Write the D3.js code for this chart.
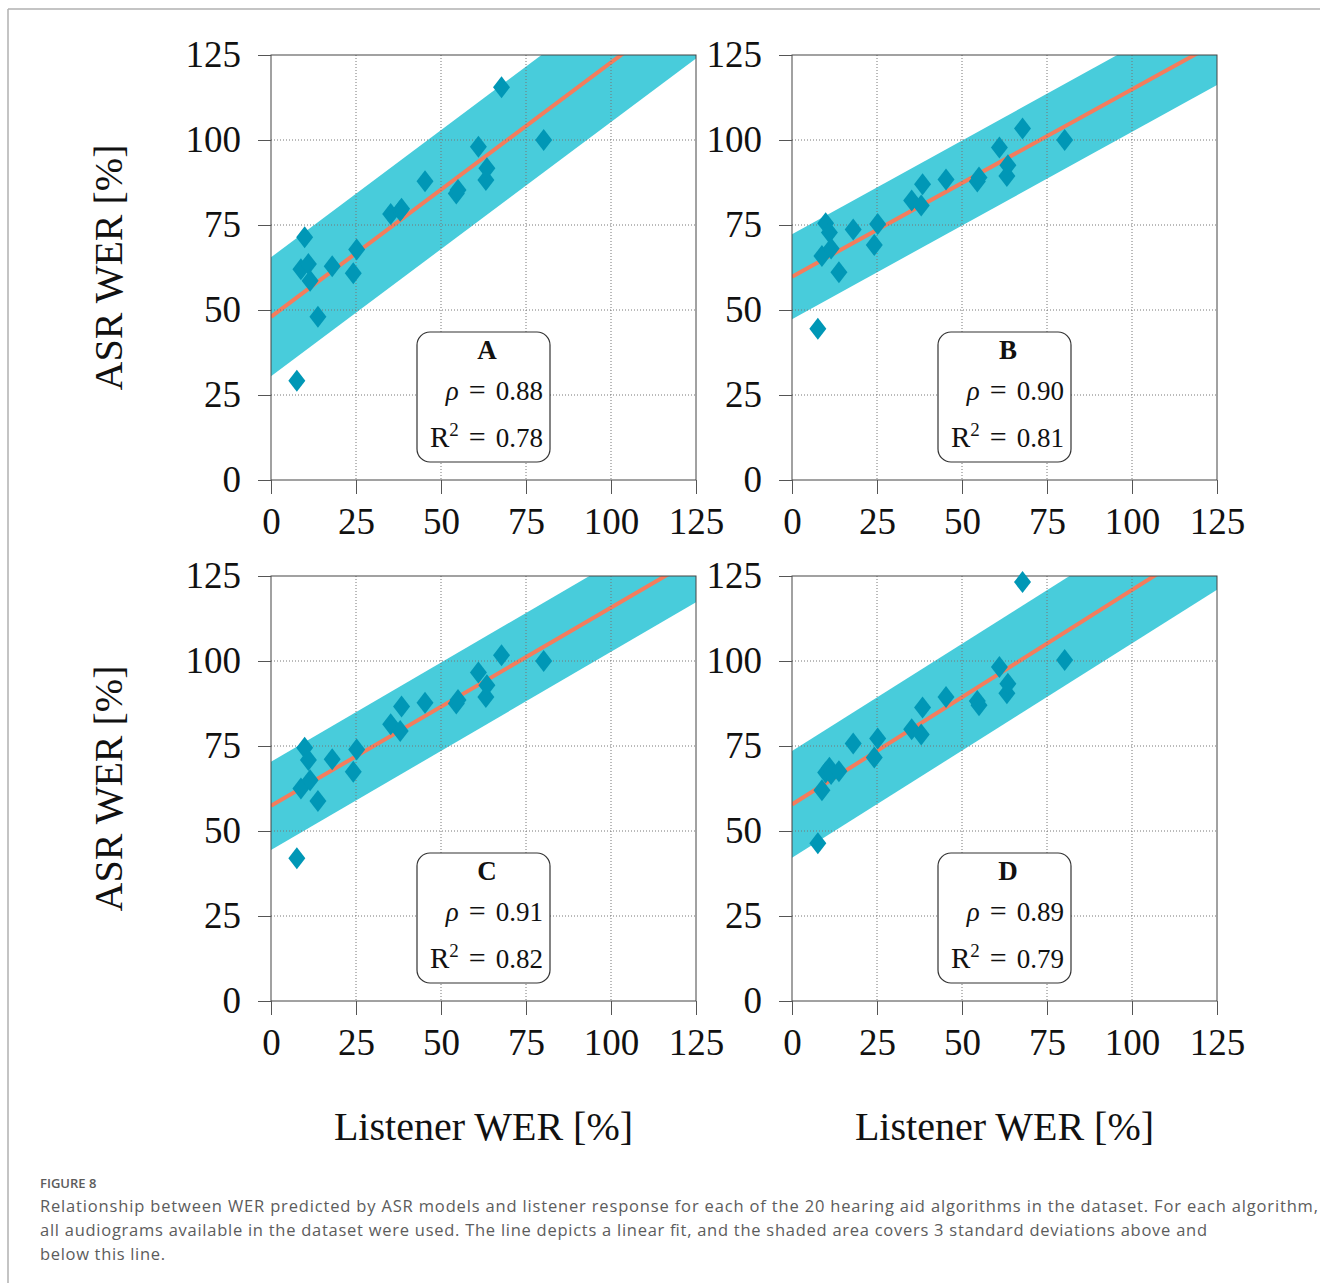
<!DOCTYPE html>
<meta charset="utf-8">
<style>
body { margin: 0; background: #fff; }
text { font-family: "Liberation Serif", "DejaVu Serif", serif; fill: #111; }
.grid line { stroke: #777; stroke-width: 1px; stroke-dasharray: 1,2; }
.tick line { stroke: #555; }
.caption text { font-family: "Open Sans", "Noto Sans", sans-serif; fill: #5c5c5c; }
</style>
<script src="https://d3js.org/d3.v7.min.js"></script>
<body>
<script>

// listener WER per hearing aid algorithm (same x in all panels)
var listenerWer = [7.6, 8.8, 9.9, 11.0, 11.5, 13.8, 18.0, 24.2, 25.2, 35.2, 38.0, 38.4, 45.3, 54.5, 55.0, 61.0, 63.2, 63.5, 67.8, 80.2];

// ASR WER, one array per panel
var asrA = [29.2, 62.0, 71.4, 63.5, 58.6, 48.0, 62.9, 60.8, 67.8, 78.2, 79.2, 79.8, 87.9, 84.3, 85.3, 98.0, 88.2, 91.7, 115.5, 100.0];
var asrB = [44.5, 65.9, 75.5, 72.8, 68.1, 61.1, 73.7, 69.1, 75.3, 82.2, 80.7, 87.0, 88.4, 87.8, 89.0, 97.8, 89.4, 92.6, 103.4, 100.0];
var asrC = [42.0, 62.5, 74.5, 70.9, 64.9, 58.8, 71.1, 67.4, 74.0, 81.4, 79.4, 86.6, 87.7, 87.5, 88.5, 96.6, 89.4, 92.9, 101.7, 100.0];
var asrD = [46.4, 62.0, 67.2, 68.6, 66.8, 67.6, 75.7, 71.6, 77.2, 79.9, 78.4, 86.3, 89.4, 88.2, 87.0, 98.2, 90.5, 93.3, 123.2, 100.3];

// linear fit per panel, and 3 std band half width
var panelLabels = ["A", "B", "C", "D"];
var fitIntercept = [48.0, 59.8, 57.4, 57.8];
var fitSlope = [0.748, 0.551, 0.583, 0.631];
var bandHalf = [17.5, 12.5, 13.0, 15.7];
var rhoValues = ["0.88", "0.90", "0.91", "0.89"];
var r2Values = ["0.78", "0.81", "0.82", "0.79"];

var tickValues = [0, 25, 50, 75, 100, 125];

var captionLines = [
  "Relationship between WER predicted by ASR models and listener response for each of the 20 hearing aid algorithms in the dataset. For each algorithm,",
  "all audiograms available in the dataset were used. The line depicts a linear fit, and the shaded area covers 3 standard deviations above and",
  "below this line."
];
var captionWidths = [1278, 1167, 125];

var asrSeries = [asrA, asrB, asrC, asrD];

var width = 1320, height = 1283;
var svg = d3.select("body").append("svg")
    .attr("width", width)
    .attr("height", height);

// page frame
svg.append("line").attr("x1", 8).attr("x2", width).attr("y1", 9).attr("y2", 9)
    .attr("stroke", "#b0b0b0").attr("stroke-width", 1.5);
svg.append("line").attr("x1", 8).attr("x2", 8).attr("y1", 9).attr("y2", height)
    .attr("stroke", "#b0b0b0").attr("stroke-width", 1.5);

var pw = 425, ph = 425;
var colX = [271, 792], rowY = [55, 576];

var x = d3.scaleLinear().domain([0, 125]).range([0, pw]);
var y = d3.scaleLinear().domain([0, 125]).range([ph, 0]);

panelLabels.forEach(function(label, i) {
  var col = i % 2, row = Math.floor(i / 2);
  var g = svg.append("g")
      .attr("transform", "translate(" + colX[col] + "," + rowY[row] + ")");

  g.append("clipPath").attr("id", "clip" + i)
    .append("rect").attr("width", pw).attr("height", ph);

  var plot = g.append("g").attr("clip-path", "url(#clip" + i + ")");

  // band
  var a = fitIntercept[i], b = fitSlope[i], h = bandHalf[i];
  var band = [
    [0, a + h], [125, a + b * 125 + h],
    [125, a + b * 125 - h], [0, a - h]
  ];
  plot.append("path")
      .attr("d", "M" + band.map(function(p) { return x(p[0]) + "," + y(p[1]); }).join("L") + "Z")
      .attr("fill", "#48ccdb");

  // grid
  var grid = g.append("g").attr("class", "grid");
  grid.selectAll(".gx").data(tickValues.slice(1, -1)).enter().append("line")
      .attr("x1", d => x(d)).attr("x2", d => x(d)).attr("y1", 0).attr("y2", ph);
  grid.selectAll(".gy").data(tickValues.slice(1, -1)).enter().append("line")
      .attr("y1", d => y(d)).attr("y2", d => y(d)).attr("x1", 0).attr("x2", pw);

  // fit line
  plot.append("line")
      .attr("x1", x(0)).attr("y1", y(a))
      .attr("x2", x(125)).attr("y2", y(a + b * 125))
      .attr("stroke", "#f47c5c").attr("stroke-width", 4);

  // frame
  g.append("rect").attr("width", pw).attr("height", ph)
      .attr("fill", "none").attr("stroke", "#444").attr("stroke-width", 1);

  // points
  var pts = listenerWer.map(function(v, k) { return [v, asrSeries[i][k]]; });
  g.selectAll(".pt").data(pts).enter().append("path")
      .attr("class", "pt")
      .attr("fill", "#0097b6")
      .attr("d", function(d) {
        var cx = x(d[0]), cy = y(d[1]);
        return "M" + cx + "," + (cy - 11) + "L" + (cx + 8.5) + "," + cy +
               "L" + cx + "," + (cy + 11) + "L" + (cx - 8.5) + "," + cy + "Z";
      });

  // axes
  var ya = g.append("g")
      .call(d3.axisLeft(y).tickValues(tickValues).tickSize(13).tickPadding(17).tickSizeOuter(0));
  var xa = g.append("g").attr("transform", "translate(0," + ph + ")")
      .call(d3.axisBottom(x).tickValues(tickValues).tickSize(14).tickPadding(14).tickSizeOuter(0));
  [ya, xa].forEach(function(ax) {
    ax.select(".domain").remove();
    ax.selectAll("text").attr("font-family", "Liberation Serif").attr("font-size", 37).attr("fill", "#111");
  });

  // stats box
  var box = g.append("g").attr("transform", "translate(146,277)");
  box.append("rect").attr("width", 133).attr("height", 130).attr("rx", 13)
      .attr("fill", "#fff").attr("stroke", "#333").attr("stroke-width", 1.2);
  box.append("text").attr("x", 70).attr("y", 27).attr("text-anchor", "middle")
      .attr("font-size", 27).attr("font-weight", "bold").text(label);
  var t1 = box.append("text").attr("x", 126).attr("y", 68).attr("text-anchor", "end")
      .attr("font-size", 27);
  t1.append("tspan").attr("font-style", "italic").text("\u03c1");
  t1.append("tspan").attr("dx", 10).attr("font-size", 30).text("=");
  t1.append("tspan").attr("dx", 10).text(rhoValues[i]);
  var t2 = box.append("text").attr("x", 126).attr("y", 115).attr("text-anchor", "end")
      .attr("font-size", 27);
  t2.append("tspan").attr("font-size", 29).text("R");
  t2.append("tspan").attr("font-size", 19).attr("dy", -11).text("2");
  t2.append("tspan").attr("dy", 11).attr("dx", 10).attr("font-size", 30).text("=");
  t2.append("tspan").attr("dx", 10).text(r2Values[i]);

  // axis titles
  if (col === 0) {
    g.append("text")
        .attr("transform", "translate(-149," + (ph / 2) + ") rotate(-90)")
        .attr("text-anchor", "middle").attr("font-size", 40)
        .text("ASR WER [%]");
  }
  if (row === 1) {
    g.append("text")
        .attr("x", pw / 2).attr("y", ph + 139)
        .attr("text-anchor", "middle").attr("font-size", 40)
        .text("Listener WER [%]");
  }
});

// caption
var cap = svg.append("g").attr("class", "caption");
cap.append("text").attr("x", 40).attr("y", 1188).attr("font-size", 13)
    .attr("font-weight", 600).attr("fill", "#6a6a6a").text("FIGURE 8");
cap.selectAll(".cl").data(captionLines).enter().append("text")
    .attr("x", 40).attr("y", (d, k) => 1212 + k * 24)
    .attr("font-size", 16.5)
    .attr("textLength", (d, k) => captionWidths[k])
    .attr("lengthAdjust", "spacing")
    .text(d => d);

</script>
